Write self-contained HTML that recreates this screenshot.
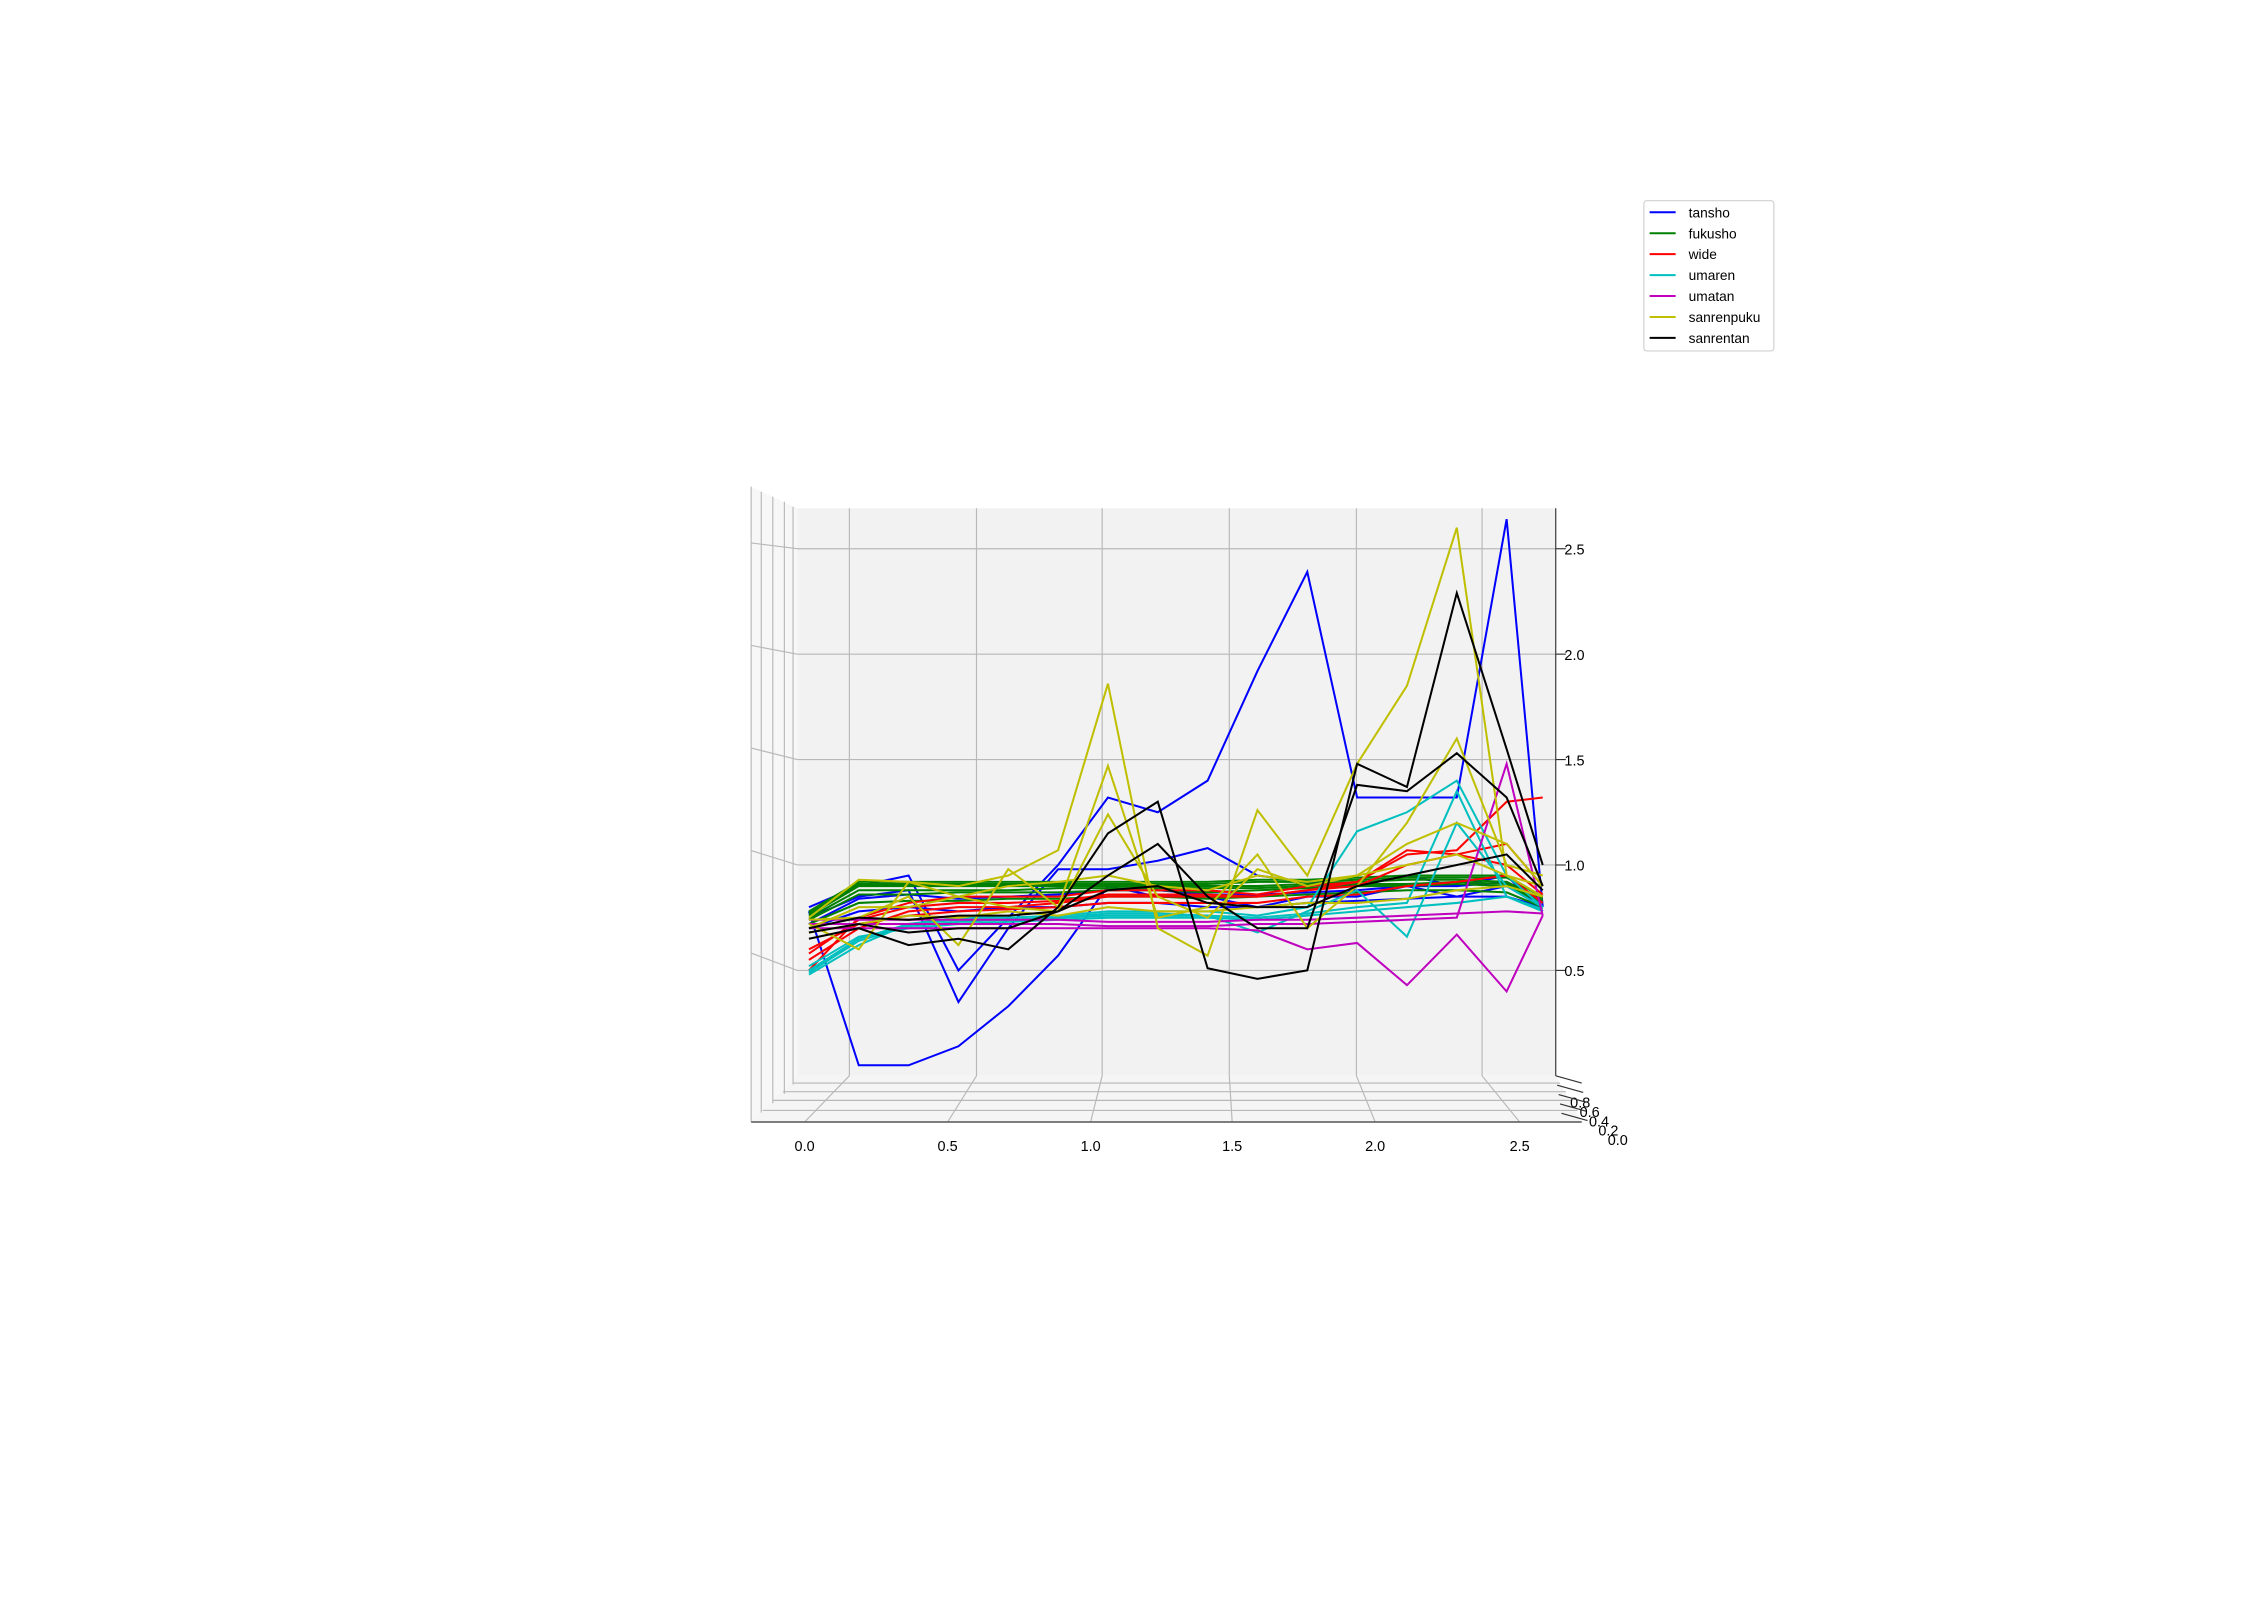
<!DOCTYPE html>
<html><head><meta charset="utf-8"><style>
html,body{margin:0;padding:0;background:#fff;}
svg{display:block;font-family:"Liberation Sans","DejaVu Sans",sans-serif;}
</style></head><body>
<svg id="chart" width="2265" height="1613" viewBox="0 0 1568 1117" preserveAspectRatio="none" xmlns="http://www.w3.org/2000/svg">
<g id="axes3d">
  <rect x="552" y="352" width="525" height="393" fill="#f2f2f2"/>
  <polygon points="520,337 552,352 552,745 520,777" fill="#f7f7f7"/>
  <polygon points="520,777 552,745 1077,745 1095,777" fill="#f5f5f5"/>
  <g id="grid" stroke="#b8b8b8" stroke-width="0.8" fill="none"></g>
  <line x1="1077" y1="352" x2="1077" y2="745" stroke="#333" stroke-width="0.8"/>
  <line x1="520" y1="777" x2="1095" y2="777" stroke="#555" stroke-width="1"/>
  <g id="ticks" font-size="10" fill="#000"></g>
</g>
<g id="series" fill="none" stroke-width="1.4" stroke-linejoin="miter"></g>
<g id="legend">
  <rect x="1138" y="139" width="90" height="104" rx="2" fill="#fff" stroke="#d0d0d0" stroke-width="0.8"/>
</g>
</svg>
<script>
const categories = [0,1,2,3,4,5,6,7,8,9,10,11,12,13,14,15];
const zTicks = [0.5,1.0,1.5,2.0,2.5];
const xTickLabels = ["0.0","0.5","1.0","1.5","2.0","2.5"];
const depthTickLabels = ["0.8","0.6","0.4","0.2","0.0"];
const seriesNames = ["tansho","fukusho","wide","umaren","umatan","sanrenpuku","sanrentan"];
const seriesColors = ["#0000ff","#008000","#ff0000","#00bfbf","#bf00bf","#bfbf00","#000000"];
const tansho = [
 [0.78,0.05,0.05,0.14,0.33,0.57,0.9,0.85,0.85,0.8,0.85,0.85,0.9,0.85,0.9,0.8],
 [0.8,0.9,0.95,0.5,0.75,1.0,1.32,1.25,1.4,1.92,2.39,1.32,1.32,1.32,2.64,0.8],
 [0.75,0.85,0.88,0.35,0.7,0.98,0.98,1.02,1.08,0.95,0.92,0.9,0.95,0.9,0.95,0.78],
 [0.7,0.78,0.8,0.78,0.8,0.8,0.82,0.82,0.8,0.8,0.82,0.83,0.84,0.85,0.85,0.8],
 [0.72,0.84,0.86,0.84,0.85,0.86,0.88,0.88,0.86,0.86,0.87,0.88,0.9,0.9,0.92,0.82]
];
const fukusho = [
 [0.78,0.92,0.92,0.92,0.92,0.92,0.92,0.92,0.92,0.93,0.93,0.94,0.95,0.95,0.95,0.85],
 [0.77,0.91,0.91,0.91,0.91,0.91,0.91,0.91,0.91,0.92,0.92,0.93,0.94,0.94,0.94,0.85],
 [0.76,0.9,0.9,0.9,0.9,0.9,0.9,0.9,0.9,0.9,0.91,0.92,0.93,0.93,0.92,0.84],
 [0.75,0.88,0.88,0.88,0.88,0.89,0.89,0.89,0.89,0.89,0.9,0.91,0.91,0.92,0.91,0.83],
 [0.74,0.86,0.86,0.87,0.87,0.87,0.88,0.88,0.87,0.88,0.89,0.9,0.9,0.91,0.9,0.82],
 [0.72,0.82,0.83,0.83,0.84,0.84,0.85,0.85,0.84,0.85,0.86,0.87,0.88,0.88,0.87,0.8]
];
const wide = [
 [0.5,0.75,0.82,0.85,0.85,0.85,0.88,0.88,0.88,0.86,0.9,0.92,1.05,1.07,1.3,1.32],
 [0.55,0.7,0.78,0.8,0.8,0.82,0.85,0.85,0.85,0.85,0.88,0.9,1.0,1.05,1.1,0.9],
 [0.6,0.72,0.76,0.78,0.79,0.8,0.82,0.82,0.82,0.82,0.85,0.86,0.9,0.92,0.95,0.82],
 [0.58,0.74,0.8,0.82,0.82,0.83,0.86,0.86,0.86,0.85,0.88,0.92,1.07,1.05,1.0,0.86]
];
const umaren = [
 [0.48,0.62,0.72,0.75,0.75,0.76,0.78,0.78,0.78,0.76,0.8,1.16,1.25,1.4,0.95,0.8],
 [0.5,0.65,0.72,0.74,0.74,0.75,0.77,0.77,0.76,0.68,0.78,0.88,0.66,1.2,0.9,0.8],
 [0.52,0.66,0.7,0.72,0.73,0.74,0.75,0.75,0.75,0.74,0.76,0.78,0.8,0.82,0.85,0.78],
 [0.49,0.64,0.71,0.73,0.74,0.75,0.76,0.76,0.76,0.75,0.77,0.8,0.82,1.35,0.85,0.79]
];
const umatan = [
 [0.7,0.7,0.7,0.7,0.7,0.7,0.7,0.7,0.7,0.69,0.6,0.63,0.43,0.67,0.4,0.76],
 [0.72,0.72,0.72,0.72,0.72,0.72,0.71,0.71,0.71,0.72,0.72,0.73,0.74,0.75,1.48,0.76],
 [0.74,0.74,0.74,0.74,0.74,0.74,0.73,0.73,0.73,0.74,0.74,0.75,0.76,0.77,0.78,0.77]
];
const sanrenpuku = [
 [0.72,0.6,0.92,0.9,0.95,1.07,1.86,0.7,0.57,1.26,0.95,1.48,1.85,2.6,0.95,0.85],
 [0.74,0.75,0.85,0.62,0.98,0.8,1.47,0.75,0.8,1.05,0.7,0.9,1.2,1.6,1.0,0.95],
 [0.7,0.8,0.8,0.85,0.8,0.78,1.24,0.85,0.75,0.98,0.9,0.95,1.1,1.2,1.1,0.9],
 [0.68,0.72,0.76,0.75,0.78,0.76,0.8,0.78,0.78,0.8,0.82,0.82,0.84,0.88,0.9,0.85],
 [0.75,0.93,0.92,0.85,0.9,0.92,0.95,0.9,0.88,0.95,0.92,0.95,1.0,1.05,0.95,0.9]
];
const sanrentan = [
 [0.65,0.7,0.62,0.65,0.6,0.8,1.15,1.3,0.51,0.46,0.5,1.48,1.37,2.29,1.55,1.0],
 [0.68,0.72,0.68,0.7,0.7,0.78,0.95,1.1,0.85,0.7,0.7,1.38,1.35,1.53,1.32,0.9],
 [0.7,0.75,0.74,0.76,0.76,0.78,0.88,0.9,0.82,0.8,0.8,0.9,0.95,1.0,1.05,0.88]
];
const allSeries = [tansho,fukusho,wide,umaren,umatan,sanrenpuku,sanrentan];

const NS = "http://www.w3.org/2000/svg";
function xScale(i){ return i < 15 ? 560 + i*34.5 : 1068; }
function zScale(v){ return 745 - v*146; }
function mk(tag, attrs, parent){ const e=document.createElementNS(NS,tag); for(const k in attrs) e.setAttribute(k,attrs[k]); parent.appendChild(e); return e; }

const grid = document.getElementById('grid');
const backX = [588,676,763,851,939,1026];
const frontX = [557,656,755,853,952,1052];
backX.forEach((bx,k)=>{
  const g1 = mk('line',{x1:bx,y1:352,x2:bx,y2:745},grid);
   
  const g2 = mk('line',{x1:bx,y1:745,x2:frontX[k],y2:777},grid);
   
});
const ticks = document.getElementById('ticks');
zTicks.forEach((t,k)=>{
  const y = zScale(t);
  const l = mk('line',{x1:552,y1:y,x2:1077,y2:y},grid);
   
  const s = mk('line',{x1:520,y1:y-12+k*2,x2:552,y2:y},grid);
   
  const tk = mk('line',{x1:1077,y1:y,x2:1084,y2:y,stroke:'#333','stroke-width':0.8},ticks);
   
  const tx = mk('text',{x:1083,y:y+4},ticks); tx.textContent = t.toFixed(1);
   
});
[520,527,535,543,549].forEach((vx,k)=>{
  const l = mk('line',{x1:vx,y1:337+k*3.5,x2:vx,y2:777-k*6.5},grid);
   
});
[750,756,762,769].forEach((hy,k)=>{
  const l = mk('line',{x1:549-k*7,y1:hy,x2:1080+k*4,y2:hy},grid);
   
});
frontX.forEach((fx,k)=>{
  const tx = mk('text',{x:fx,y:797,'text-anchor':'middle'},ticks); tx.textContent = xTickLabels[k];
   
});
depthTickLabels.forEach((d,k)=>{
  const tx = mk('text',{x:1087+k*6.5,y:767+k*6.5},ticks); tx.textContent = d;
   
  const tk = mk('line',{x1:1077+k*1,y1:745+k*6.5,x2:1095+k*1,y2:750+k*6.5,stroke:'#333','stroke-width':0.8},ticks);
   
});

const sg = document.getElementById('series');
allSeries.forEach((group,si)=>{
  group.forEach(vals=>{
    const pts = vals.map((v,i)=>xScale(categories[i])+','+zScale(v)).join(' ');
    const pl = mk('polyline',{points:pts,stroke:seriesColors[si]},sg);
    
    
  });
});

const lg = document.getElementById('legend');
seriesNames.forEach((n,k)=>{
  const y = 147 + k*14.5;
  const l = mk('line',{x1:1142,y1:y,x2:1160,y2:y,stroke:seriesColors[k],'stroke-width':1.4},lg);
   
  const t = mk('text',{x:1169,y:y+3.5,'font-size':'9.5',fill:'#000'},lg); t.textContent = n;
   
});
</script>
</body></html>
